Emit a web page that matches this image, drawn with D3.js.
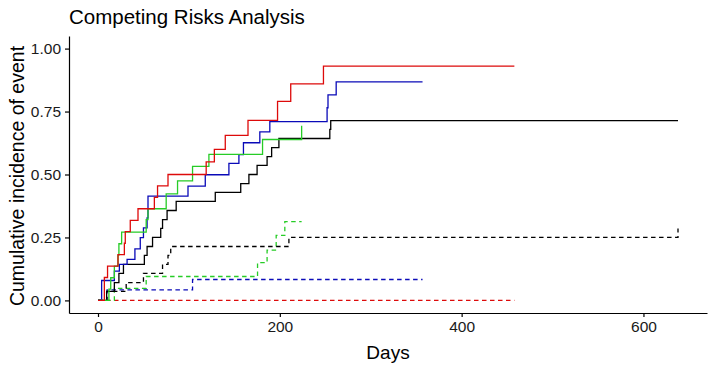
<!DOCTYPE html>
<html>
<head>
<meta charset="utf-8">
<script src="https://cdn.jsdelivr.net/npm/d3@7"></script>
<style>
  body { margin: 0; background: #fff; }
  svg text { font-family: "Liberation Sans", Arial, sans-serif; }
</style>
</head>
<body>
<div id="chart"></div>
<script>
const width = 715;
const height = 368;

// tick labels
const xTicks = [0, 200, 400, 600];
const yTicks = [0, 0.25, 0.5, 0.75, 1];

// event 1 (solid lines)
const blackEvent1Days = [0, 9.5, 18, 23, 28, 51, 54, 60, 69, 71, 76, 86, 129, 157, 166, 175, 186, 191, 199, 255, 256, 638];
const blackEvent1Cif = [0, 0.036, 0.071, 0.107, 0.143, 0.179, 0.214, 0.25, 0.286, 0.321, 0.357, 0.393, 0.429, 0.464, 0.5, 0.536, 0.571, 0.607, 0.643, 0.679, 0.714, 0.714];
const redEvent1Days = [0, 7, 10.5, 22, 29, 30, 35.5, 44, 62, 65.5, 77, 119, 128, 140, 165, 197.5, 212, 248, 458];
const redEvent1Cif = [0, 0.091, 0.136, 0.182, 0.227, 0.273, 0.318, 0.364, 0.409, 0.455, 0.5, 0.55, 0.6, 0.655, 0.715, 0.79, 0.86, 0.93, 0.93];
const greenEvent1Days = [0, 12, 14, 18, 22, 23, 26, 53, 55, 75, 87.5, 104, 122, 181, 224];
const greenEvent1Cif = [0, 0.045, 0.09, 0.136, 0.18, 0.225, 0.271, 0.321, 0.364, 0.423, 0.475, 0.532, 0.58, 0.639, 0.694];
const blueEvent1Days = [0, 4, 18, 23.5, 32, 40.6, 46.5, 50, 54, 55, 99, 118, 144, 155, 160, 178, 189, 252, 253, 262, 357];
const blueEvent1Cif = [0, 0.079, 0.116, 0.143, 0.163, 0.205, 0.249, 0.288, 0.328, 0.414, 0.454, 0.499, 0.544, 0.579, 0.626, 0.669, 0.71, 0.765, 0.816, 0.868, 0.868];

// event 2 (dashed lines)
const blackEvent2Days = [0, 9.5, 31, 50, 71, 77, 80, 210, 638];
const blackEvent2Cif = [0, 0.036, 0.071, 0.107, 0.143, 0.179, 0.214, 0.25, 0.286];
const redEvent2Days = [0, 458];
const redEvent2Cif = [0, 0];
const greenEvent2Days = [0, 18, 53, 175.5, 186, 196, 205.5, 224];
const greenEvent2Cif = [0, 0.048, 0.095, 0.15, 0.2, 0.258, 0.313, 0.313];
const blueEvent2Days = [0, 10, 104, 357];
const blueEvent2Cif = [0, 0.042, 0.083, 0.083];

const red = '#dd0a0a';
const green = '#26cc26';
const blue = '#0a0ab8';

const curves = [
  { days: redEvent2Days, cif: redEvent2Cif, colour: red, dashed: true },
  { days: blueEvent2Days, cif: blueEvent2Cif, colour: blue, dashed: true },
  { days: greenEvent2Days, cif: greenEvent2Cif, colour: green, dashed: true },
  { days: blackEvent2Days, cif: blackEvent2Cif, colour: '#000000', dashed: true },
  { days: blackEvent1Days, cif: blackEvent1Cif, colour: '#000000', dashed: false },
  { days: blueEvent1Days, cif: blueEvent1Cif, colour: blue, dashed: false },
  { days: greenEvent1Days, cif: greenEvent1Cif, colour: green, dashed: false },
  { days: redEvent1Days, cif: redEvent1Cif, colour: red, dashed: false }
];

const maxDay = d3.max(curves, c => d3.max(c.days));

const svg = d3.select('#chart')
  .append('svg')
  .attr('width', width)
  .attr('height', height);

const x = d3.scaleLinear()
  .domain([-0.05 * maxDay, maxDay * 1.05])
  .range([69, 707]);
const y = d3.scaleLinear()
  .domain([-0.05, 1.05])
  .range([313, 36]);

const line = d3.line()
  .x(d => x(d[0]))
  .y(d => y(d[1]))
  .curve(d3.curveStepAfter);

curves.forEach(c => {
  svg.append('path')
    .datum(d3.zip(c.days, c.cif))
    .attr('d', line)
    .attr('fill', 'none')
    .attr('stroke', c.colour)
    .attr('stroke-width', 1.3)
    .attr('stroke-dasharray', c.dashed ? '4.5,3.5' : null);
});

// axes
const xAxis = svg.append('g')
  .attr('transform', 'translate(0,313)')
  .call(d3.axisBottom(x).tickValues(xTicks).tickSize(4).tickSizeOuter(0).tickPadding(4));
const yAxis = svg.append('g')
  .attr('transform', 'translate(69,0)')
  .call(d3.axisLeft(y).tickValues(yTicks).tickFormat(d3.format('.2f')).tickSize(4).tickSizeOuter(0).tickPadding(4));

[xAxis, yAxis].forEach(g => {
  g.selectAll('path, line').attr('stroke', '#000').attr('stroke-width', 1.2);
  g.selectAll('text').attr('fill', '#1a1a1a').attr('font-size', 15.5);
});

// titles
svg.append('text')
  .attr('x', 69)
  .attr('y', 24)
  .attr('font-size', 20.5)
  .text('Competing Risks Analysis');

svg.append('text')
  .attr('x', 388)
  .attr('y', 359)
  .attr('text-anchor', 'middle')
  .attr('font-size', 19)
  .text('Days');

svg.append('text')
  .attr('transform', 'translate(24,176) rotate(-90)')
  .attr('text-anchor', 'middle')
  .attr('font-size', 19.5)
  .text('Cumulative incidence of event');
</script>
</body>
</html>
